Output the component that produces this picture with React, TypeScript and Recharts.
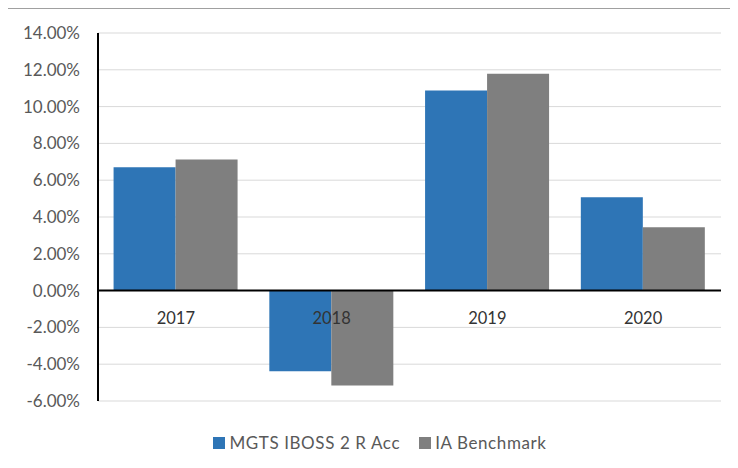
import React from "react";
import { BarChart, Bar, XAxis, YAxis, CartesianGrid, ReferenceLine } from "recharts";

const years = ["2017", "2018", "2019", "2020"];
const fundReturns = [6.7, -4.38, 10.87, 5.07];
const benchmarkReturns = [7.12, -5.16, 11.79, 3.44];
const yTicks = [-6, -4, -2, 0, 2, 4, 6, 8, 10, 12, 14];
const seriesNames = ["MGTS IBOSS 2 R Acc", "IA Benchmark"];

const COLORS = ["#2E75B6", "#7F7F7F"];

const data = years.map((year, i) => ({
    year,
    fund: fundReturns[i],
    bench: benchmarkReturns[i],
}));

const W = 738;
const H = 468;
const TOP = 33;
const BOTTOM = 37;
const X_AXIS_H = 30;
const PLOT_H = H - TOP - BOTTOM - X_AXIS_H;
const Y_MIN = -6;
const Y_MAX = 14;
// pixel row of the zero line, labels hang just under it
const ZERO_Y = TOP + (PLOT_H * Y_MAX) / (Y_MAX - Y_MIN);

const FONT = "Lato, 'Liberation Sans', sans-serif";

const YearTick = (props: any) => {
    const { x, payload } = props;
    return (
        <text
            x={x}
            y={ZERO_Y + 27}
            textAnchor="middle"
            dominantBaseline="central"
            fill="#333333"
            fontSize={16.5}
            fontFamily={FONT}
        >
            {payload.value}
        </text>
    );
};

const LegendBox = () => (
    <div
        style={{
            position: "absolute",
            top: 432,
            left: 0,
            width: 760,
            display: "flex",
            justifyContent: "center",
            gap: 19,
            fontFamily: FONT,
            fontSize: 17,
            letterSpacing: 0.6,
            color: "#595959",
        }}
    >
        {seriesNames.map((name, i) => (
            <div key={name} style={{ display: "flex", alignItems: "center" }}>
                <span
                    style={{
                        width: 12,
                        height: 12,
                        background: COLORS[i],
                        marginRight: 4,
                        display: "inline-block",
                    }}
                />
                <span>{name}</span>
            </div>
        ))}
    </div>
);

export default function App() {
    return (
        <div
            style={{
                position: "relative",
                width: W,
                height: H,
                margin: "-8px 0 0 -8px",
                background: "#fff",
                overflow: "hidden",
            }}
        >
            <div style={{ position: "absolute", top: 0, left: 0, width: W, height: 1.5, background: "#9a9a9a" }} />
            <div
                style={{
                    position: "absolute",
                    top: 8,
                    left: 6,
                    width: W,
                    height: H,
                    borderTop: "1.5px solid #a0a0a0",
                    borderLeft: "1.5px solid #a0a0a0",
                }}
            />
            <div style={{ position: "absolute", top: 0, left: 0 }}>
                <BarChart
                    width={W}
                    height={H}
                    data={data}
                    margin={{ top: TOP, right: 17, bottom: BOTTOM, left: 0 }}
                    barCategoryGap="10%"
                    barGap={0}
                >
                    <CartesianGrid vertical={false} stroke="#d9d9d9" />
                    <XAxis dataKey="year" height={X_AXIS_H} axisLine={false} tickLine={false} tick={<YearTick />} />
                    <YAxis
                        width={98}
                        domain={[Y_MIN, Y_MAX]}
                        ticks={yTicks}
                        interval={0}
                        tickFormatter={(v) => `${v.toFixed(2)}%`}
                        axisLine={{ stroke: "#000", strokeWidth: 2 }}
                        tickLine={false}
                        tickSize={0}
                        tickMargin={18}
                        tick={{ fill: "#595959", fontSize: 17, fontFamily: FONT }}
                    />
                    <Bar dataKey="fund" name={seriesNames[0]} fill={COLORS[0]} isAnimationActive={false} />
                    <Bar dataKey="bench" name={seriesNames[1]} fill={COLORS[1]} isAnimationActive={false} />
                    <ReferenceLine y={0} stroke="#000" strokeWidth={2} />
                </BarChart>
            </div>
            <LegendBox />
        </div>
    );
}
